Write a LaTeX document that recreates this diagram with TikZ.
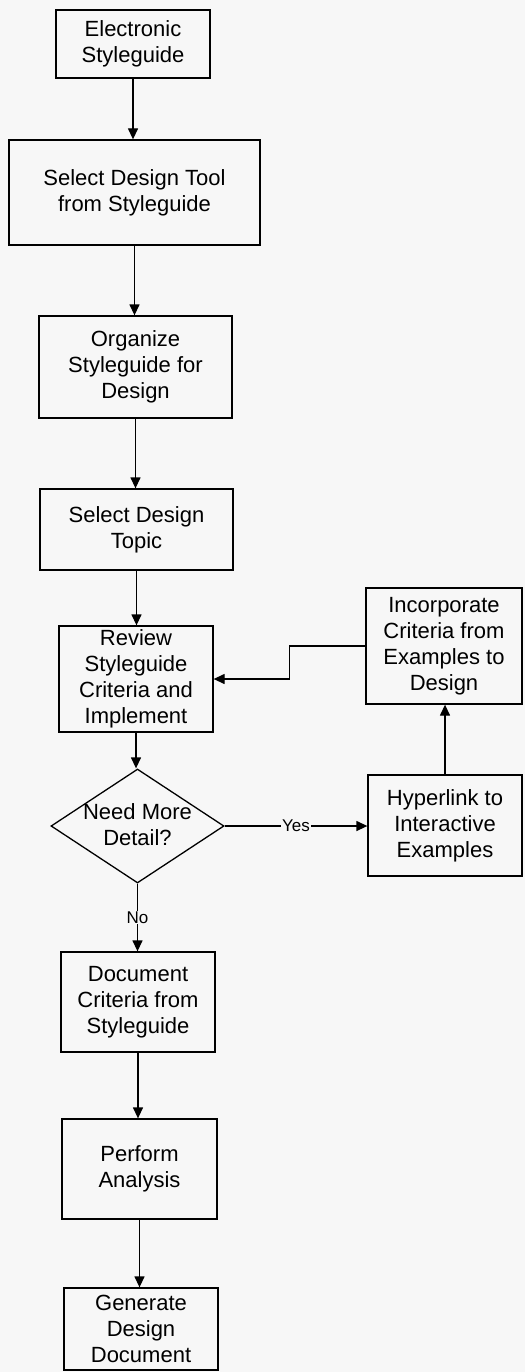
\documentclass[tikz,border=0pt]{standalone}
\usepackage{fontspec}
\setmainfont{Liberation Sans}
\usetikzlibrary{arrows.meta,shapes.geometric}
\definecolor{bg}{RGB}{247,247,247}
\begin{document}
\begin{tikzpicture}[x=1pt,y=-1pt,
  box/.style={draw,line width=1.3pt,inner sep=0pt,align=center,font=\fontsize{22}{26}\selectfont},
  dec/.style={draw,shape=diamond,line width=1.3pt,inner sep=0pt},
  lbl/.style={fill=bg,inner sep=1pt,font=\fontsize{17}{20}\selectfont},
  arr/.style={line width=1.3pt,-{Triangle[length=11pt,width=10pt]}},
  ln/.style={line width=1.3pt}]
\path[fill=bg,use as bounding box] (0,0) rectangle (525,1372);

\node[box,minimum width=154pt,minimum height=68pt] (es) at (133,44) {Electronic\\Styleguide};
\node[box,minimum width=251pt,minimum height=105pt] (sdt) at (134.5,192.5) {Select Design Tool\\from Styleguide};
\node[box,minimum width=193pt,minimum height=102pt] (org) at (135.5,367) {Organize\\Styleguide for\\Design};
\node[box,minimum width=193pt,minimum height=81pt] (topic) at (136.5,529.5) {Select Design\\Topic};
\node[box,minimum width=154pt,minimum height=106pt] (rev) at (136,679) {Review\\Styleguide\\Criteria and\\Implement};
\node[dec,minimum width=173pt,minimum height=114pt] (need) at (137.5,826) {};
\node[align=center,inner sep=0pt,font=\fontsize{22}{26}\selectfont] (needtxt) at (137.5,825) {Need More\\Detail?};
\node[box,minimum width=156pt,minimum height=116pt] (inc) at (444,646) {Incorporate\\Criteria from\\Examples to\\Design};
\node[box,minimum width=154pt,minimum height=101pt] (hyp) at (445,825.5) {Hyperlink to\\Interactive\\Examples};
\node[box,minimum width=154pt,minimum height=100pt] (doc) at (138,1002) {Document\\Criteria from\\Styleguide};
\node[box,minimum width=155pt,minimum height=100pt] (perf) at (139.5,1169) {Perform\\Analysis};
\node[box,minimum width=154pt,minimum height=82pt] (gen) at (141,1329) {Generate\\Design\\Document};

\draw[arr] (es.south) -- (es.south |- sdt.north);
\draw[arr] (sdt.south) -- (sdt.south |- org.north);
\draw[arr] (org.south) -- (org.south |- topic.north);
\draw[arr] (topic.south) -- (topic.south |- rev.north);
\draw[arr] (rev.south) -- (rev.south |- need.north);
\draw[arr] (need.east) -- node[lbl] (yes) {Yes} (hyp.west |- need.east);
\draw[arr] (need.south) -- node[lbl,pos=0.5] (no) {No} (need.south |- doc.north);
\draw[arr] (hyp.north) -- (hyp.north |- inc.south);
\draw[arr] (inc.west) -- ++(-76,0) |- (rev.east);
\draw[arr] (doc.south) -- (doc.south |- perf.north);
\draw[arr] (perf.south) -- (perf.south |- gen.north);
\end{tikzpicture}
\end{document}
